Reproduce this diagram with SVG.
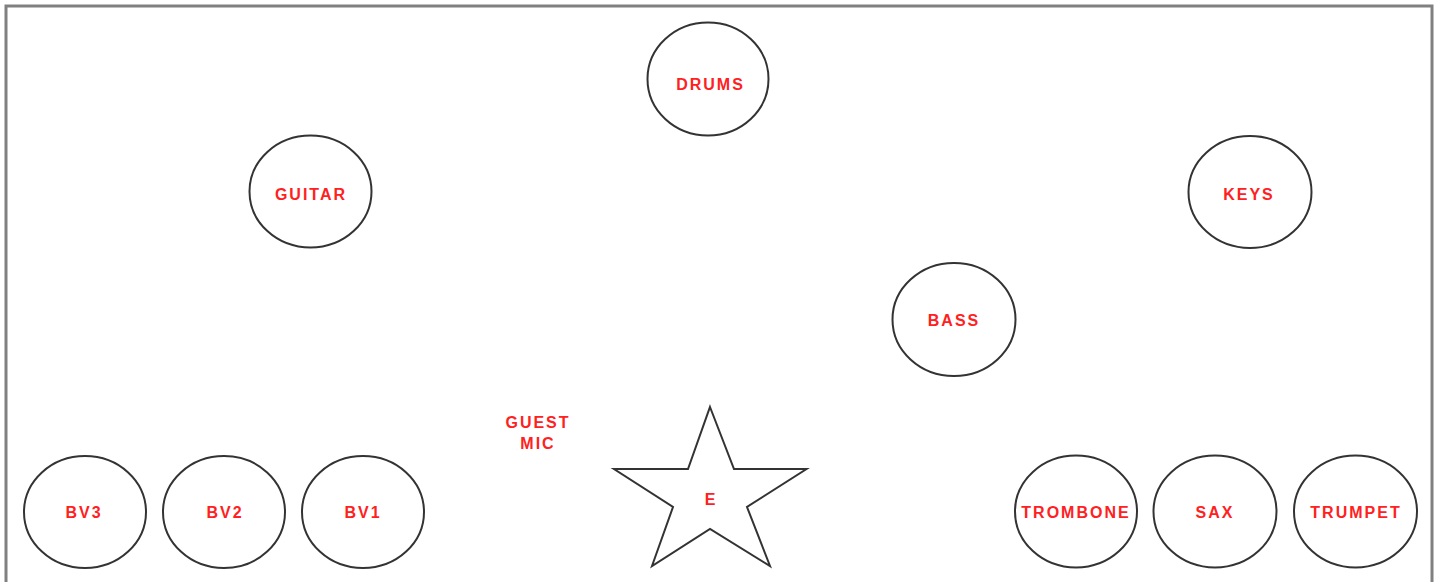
<svg xmlns="http://www.w3.org/2000/svg" width="1437" height="582" viewBox="0 0 1437 582">
<style>
.node{fill:#fff;stroke:#333;stroke-width:2}
.lbl{font-family:"Liberation Sans",Arial,sans-serif;font-weight:bold;font-size:16px;letter-spacing:2px;fill:#ff2121;text-anchor:middle}
</style>
<rect width="1437" height="582" fill="#fff"/>
<rect x="6" y="6" width="1426" height="580" fill="none" stroke="#808080" stroke-width="3"/>
<g id="connectors"/>
<g id="drums"><ellipse class="node" cx="708" cy="79" rx="60.5" ry="56.5"/><text class="lbl" x="710.5" y="90">DRUMS</text></g>
<g id="guitar"><ellipse class="node" cx="310.5" cy="191.5" rx="61" ry="56"/><text class="lbl" x="311" y="200">GUITAR</text></g>
<g id="keys"><ellipse class="node" cx="1250" cy="192" rx="61.5" ry="56"/><text class="lbl" x="1249" y="200">KEYS</text></g>
<g id="bass"><ellipse class="node" cx="954" cy="319.5" rx="61.5" ry="56.5"/><text class="lbl" x="954" y="326">BASS</text></g>
<g id="bv3"><ellipse class="node" cx="85" cy="512" rx="61" ry="56"/><text class="lbl" x="84" y="518">BV3</text></g>
<g id="bv2"><ellipse class="node" cx="224" cy="512" rx="61" ry="56"/><text class="lbl" x="225" y="518">BV2</text></g>
<g id="bv1"><ellipse class="node" cx="363" cy="512" rx="61" ry="56"/><text class="lbl" x="363" y="518">BV1</text></g>
<g id="trombone"><ellipse class="node" cx="1076" cy="511.5" rx="61" ry="56"/><text class="lbl" x="1076" y="518">TROMBONE</text></g>
<g id="sax"><ellipse class="node" cx="1215" cy="511.5" rx="61.5" ry="56"/><text class="lbl" x="1215" y="518">SAX</text></g>
<g id="trumpet"><ellipse class="node" cx="1355.5" cy="511.5" rx="61.5" ry="56"/><text class="lbl" x="1356" y="518">TRUMPET</text></g>
<g id="guest-mic"><text class="lbl" x="538" y="428">GUEST</text><text class="lbl" x="538" y="449">MIC</text></g>
<g id="star"><polygon class="node" points="710,407 734,469 806.5,469 747,507 770,566 710,529 652,566 673,507 614,469 688,469" stroke-linejoin="miter"/><text class="lbl" x="711" y="505">E</text></g>
</svg>
